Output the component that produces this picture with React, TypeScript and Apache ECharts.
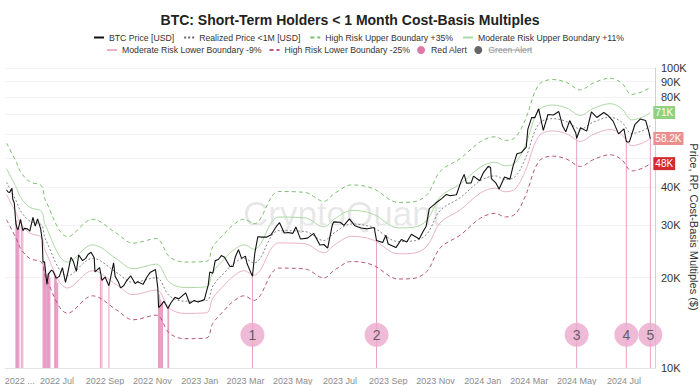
import React, { useEffect, useRef } from 'react';
import * as echarts from 'echarts';

const TITLE = 'BTC: Short-Term Holders < 1 Month Cost-Basis Multiples';
const Y_NAME = 'Price, RP, Cost-Basis Multiples ($)';

// BTC daily close, thousands of USD
const priceDates = [
  '2022-04-27','2022-04-29','2022-05-01','2022-05-04','2022-05-05','2022-05-07','2022-05-09','2022-05-11','2022-05-12','2022-05-15',
  '2022-05-18','2022-05-20','2022-05-24','2022-05-27','2022-05-31','2022-06-03','2022-06-06','2022-06-10','2022-06-12','2022-06-13',
  '2022-06-15','2022-06-18','2022-06-20','2022-06-24','2022-06-26','2022-06-30','2022-07-04','2022-07-08','2022-07-12','2022-07-15',
  '2022-07-19','2022-07-22','2022-07-26','2022-07-29','2022-08-03','2022-08-07','2022-08-10','2022-08-14','2022-08-18','2022-08-19',
  '2022-08-25','2022-08-28','2022-09-01','2022-09-06','2022-09-12','2022-09-14','2022-09-18','2022-09-21','2022-09-25','2022-09-28',
  '2022-10-04','2022-10-10','2022-10-13','2022-10-20','2022-10-25','2022-10-29','2022-11-05','2022-11-08','2022-11-09','2022-11-13',
  '2022-11-16','2022-11-21','2022-11-25','2022-11-30','2022-12-05','2022-12-14','2022-12-19','2022-12-25','2022-12-30','2023-01-07',
  '2023-01-12','2023-01-14','2023-01-18','2023-01-21','2023-01-25','2023-01-29','2023-02-02','2023-02-09','2023-02-13','2023-02-16',
  '2023-02-20','2023-02-24','2023-03-01','2023-03-03','2023-03-10','2023-03-13','2023-03-17','2023-03-22','2023-03-28','2023-04-03',
  '2023-04-10','2023-04-14','2023-04-20','2023-04-25','2023-05-01','2023-05-05','2023-05-11','2023-05-20','2023-05-28','2023-06-05',
  '2023-06-10','2023-06-15','2023-06-21','2023-06-23','2023-07-01','2023-07-06','2023-07-13','2023-07-20','2023-07-28','2023-08-05',
  '2023-08-14','2023-08-17','2023-08-25','2023-08-29','2023-09-01','2023-09-11','2023-09-18','2023-09-25','2023-10-01','2023-10-11',
  '2023-10-16','2023-10-20','2023-10-24','2023-11-01','2023-11-09','2023-11-15','2023-11-20','2023-11-28','2023-12-04','2023-12-08',
  '2023-12-11','2023-12-17','2023-12-20','2023-12-28','2024-01-02','2024-01-08','2024-01-11','2024-01-12','2024-01-18','2024-01-22',
  '2024-01-29','2024-02-05','2024-02-09','2024-02-14','2024-02-20','2024-02-26','2024-02-28','2024-03-04','2024-03-08','2024-03-13',
  '2024-03-19','2024-03-25','2024-04-01','2024-04-08','2024-04-13','2024-04-17','2024-04-22','2024-04-30','2024-05-01','2024-05-06',
  '2024-05-14','2024-05-20','2024-05-27','2024-06-05','2024-06-10','2024-06-17','2024-06-24','2024-07-01','2024-07-04','2024-07-05',
  '2024-07-08','2024-07-15','2024-07-22','2024-07-29','2024-08-02','2024-08-04'
];
const priceValues = [
  39.2,38.6,38.5,39.7,36.6,35.5,30.3,29.0,29.0,31.3,
  28.7,29.2,29.1,28.6,31.8,29.7,31.4,29.1,26.6,22.5,
  22.6,19.0,20.6,21.2,21.0,19.9,20.2,21.6,19.3,20.8,
  23.4,22.7,21.0,23.8,22.8,23.2,23.9,24.3,23.3,20.9,
  21.6,19.6,20.1,18.8,22.4,20.2,19.4,18.5,18.8,19.4,
  20.3,19.1,19.4,19.0,20.1,20.8,21.3,18.5,15.9,16.3,
  16.7,15.8,16.5,17.2,17.0,17.8,16.4,16.8,16.6,16.9,
  18.9,20.9,20.7,22.8,23.0,23.7,23.4,21.8,21.8,23.5,
  24.8,23.2,23.6,22.3,20.2,24.1,27.4,27.3,27.3,27.8,
  29.7,30.5,28.2,28.3,28.1,29.5,26.9,27.1,28.1,25.7,
  25.8,25.1,30.0,30.7,30.6,29.9,31.4,29.8,29.3,29.1,
  29.4,26.6,26.2,27.7,25.9,25.2,26.8,26.3,27.9,26.9,
  28.5,29.7,34.0,35.4,36.7,37.9,37.5,37.8,41.9,44.2,
  41.3,41.4,43.6,42.1,44.9,47.0,46.6,42.8,41.3,39.5,
  43.3,42.6,47.1,51.8,52.3,54.5,62.4,68.3,68.3,73.1,
  62.0,70.0,69.7,71.6,63.9,61.3,66.8,60.6,58.3,63.2,
  61.6,71.4,68.4,71.1,69.6,66.5,60.3,62.7,57.0,56.7,
  56.7,64.7,67.6,66.8,61.4,58.2
];

// Realized price of coins younger than 1 month, thousands of USD
const rpDates = [
  '2022-04-27','2022-05-10','2022-05-15','2022-05-27','2022-06-11','2022-06-16','2022-07-15','2022-08-16','2022-09-16','2022-10-07',
  '2022-11-06','2022-11-23','2022-12-13','2023-01-10','2023-01-18','2023-02-02','2023-02-13','2023-02-27','2023-03-12','2023-04-13',
  '2023-05-17','2023-06-10','2023-06-24','2023-07-16','2023-08-12','2023-09-14','2023-10-03','2023-10-21','2023-11-07','2023-12-03',
  '2023-12-29','2024-01-17','2024-01-30','2024-02-12','2024-02-25','2024-03-13','2024-03-31','2024-04-18','2024-05-06','2024-05-22',
  '2024-06-13','2024-06-28','2024-07-11','2024-07-25','2024-08-04'
];
const rpValues = [
  41.6,35.8,33.4,30.9,30.0,26.9,20.3,23.2,20.8,19.3,
  20.0,17.4,16.7,16.8,18.8,20.8,22.2,23.2,22.4,28.7,
  28.5,26.6,28.3,30.2,29.4,26.4,26.5,28.0,33.5,37.0,
  42.1,43.7,42.5,43.5,50.0,65.0,67.8,66.3,62.6,65.9,
  68.5,66.0,60.5,61.8,64.0
];

const HIGH_UPPER = 1.35;
const MOD_UPPER = 1.11;
const MOD_LOWER = 0.91;
const HIGH_LOWER = 0.75;

// Red alert days (price below the moderate lower boundary)
const alertDates = [
  '2022-05-09','2022-05-10','2022-05-11','2022-05-12','2022-05-13','2022-05-16','2022-05-18',
  '2022-06-13','2022-06-14','2022-06-15','2022-06-16','2022-06-17','2022-06-18','2022-06-19','2022-06-20','2022-06-21','2022-06-22',
  '2022-06-28','2022-06-29','2022-06-30','2022-07-01','2022-07-02',
  '2022-08-26','2022-08-28','2022-09-06',
  '2022-11-09','2022-11-10','2022-11-11','2022-11-12','2022-11-13','2022-11-14','2022-11-21','2022-11-22',
  '2023-03-10','2023-08-17','2024-05-01','2024-07-04','2024-08-04'
];
const alertValues = [
  30.3,31.0,29.0,29.0,29.3,29.9,28.7,
  22.5,22.2,22.6,20.4,20.5,19.0,20.6,20.6,20.7,20.0,
  20.3,20.1,19.9,19.3,19.2,
  20.2,19.6,18.8,
  15.9,17.6,17.0,16.8,16.3,16.6,15.8,16.2,
  20.2,26.6,58.3,57.0,58.2
];

const eventDates = ['2023-03-10','2023-08-17','2024-05-01','2024-07-04','2024-08-04'];
const eventLabels = ['1','2','3','4','5'];
const EVENT_BADGE_LEVEL = 12.9;

const yGridValues = [10, 20, 30, 40, 50, 60, 70, 80, 90, 100];
const yLabelValues = [10, 20, 30, 40, 80, 90, 100];
const xTickDates = [
  '2022-05-14','2022-07-01','2022-09-01','2022-11-01','2023-01-01','2023-03-01','2023-05-01','2023-07-01',
  '2023-09-01','2023-11-01','2024-01-01','2024-03-01','2024-05-01','2024-07-01'
];
const X_MIN = '2022-04-25';
const X_MAX = '2024-08-10';
const Y_MIN = 10;
const Y_MAX = 100;

const MONTHS = ['Jan','Feb','Mar','Apr','May','Jun','Jul','Aug','Sep','Oct','Nov','Dec'];

function ts(s: string): number {
  const [y, m, d] = s.split('-').map(Number);
  return new Date(y, m - 1, d).getTime();
}
function fmtK(v: number): string {
  const r = Math.round(v * 10) / 10;
  return (Number.isInteger(r) ? r.toFixed(0) : r.toFixed(1)) + 'K';
}

const FONT = '"Liberation Sans", Arial, Helvetica, sans-serif';

export default function App() {
  const ref = useRef<HTMLDivElement>(null);
  useEffect(() => {
    if (!ref.current) return;
    const chart = echarts.init(ref.current, undefined, { renderer: 'svg' });

    const pricePts = priceDates.map((d, i) => [ts(d), priceValues[i]]);
    const band = (k: number) => rpDates.map((d, i) => [ts(d), Math.round(rpValues[i] * k * 100) / 100]);
    const rpPts = band(1);
    const alertPts = alertDates.map((d, i) => [ts(d), alertValues[i]]);
    const eventPts = eventDates.map((d, i) => [ts(d), EVENT_BADGE_LEVEL, eventLabels[i]]);

    const endLabel = (bg: string) => ({
      show: true,
      formatter: (p: any) => fmtK(p.value[1]),
      backgroundColor: bg,
      color: '#fff',
      fontSize: 10,
      fontFamily: FONT,
      padding: [2, 2, 1, 2],
      distance: 3,
    });

    const lineBase = { type: 'line', showSymbol: false, symbol: 'none', silent: true };

    const legendCommon = {
      itemWidth: 10,
      itemHeight: 8,
      itemGap: 9,
      width: 640,
      itemStyle: { opacity: 0 },
      textStyle: { fontSize: 8.7, color: '#333', fontFamily: FONT },
    };

    const option: any = {
      animation: false,
      textStyle: { fontFamily: FONT },
      title: {
        text: TITLE,
        left: 'center',
        top: 8,
        textStyle: { fontSize: 14, fontWeight: 'bold', color: '#222', fontFamily: FONT },
      },
      legend: [
        {
          ...legendCommon,
          left: 88,
          top: 28,
          data: [
            'BTC Price [USD]',
            'Realized Price <1M [USD]',
            'High Risk Upper Boundary +35%',
            'Moderate Risk Upper Boundary +11%',
          ],
        },
        {
          ...legendCommon,
          left: 101,
          top: 40.5,
          itemGap: 7,
          data: [
            'Moderate Risk Lower Boundary -9%',
            'High Risk Lower Boundary -25%',
            { name: 'Red Alert', icon: 'circle', itemStyle: { color: '#dd7aa8', opacity: 1 } },
            { name: 'Green Alert', icon: 'circle', itemStyle: { color: '#666', opacity: 1 }, textStyle: { color: '#9a9a9a' } },
          ],
        },
      ],
      grid: { left: 5, right: 45, top: 68, bottom: 17, containLabel: false, outerBoundsMode: 'none' },
      xAxis: {
        type: 'value',
        min: ts(X_MIN),
        max: ts(X_MAX),
        axisLine: { show: true, lineStyle: { color: '#e4e4e4' } },
        axisTick: { show: false, customValues: xTickDates.map(ts) },
        splitLine: { show: false },
        axisLabel: {
          customValues: xTickDates.map(ts),
          hideOverlap: false,
          color: '#8c8c8c',
          fontSize: 9,
          margin: 8,
          fontFamily: FONT,
          formatter: (v: number) => {
            const d = new Date(v);
            if (v === ts(xTickDates[0])) return d.getFullYear() + ' ...';
            return d.getFullYear() + ' ' + MONTHS[d.getMonth()];
          },
        },
      },
      yAxis: {
        type: 'log',
        logBase: 10,
        position: 'right',
        min: Y_MIN,
        max: Y_MAX,
        name: Y_NAME,
        nameLocation: 'middle',
        nameRotate: -90,
        nameGap: 33,
        nameMoveOverlap: false,
        nameTextStyle: { fontSize: 11, color: '#333', fontFamily: FONT, padding: [0, 0, 0, 18] },
        axisLine: { show: true, lineStyle: { color: '#d0d0d0' } },
        axisTick: { show: false, customValues: yGridValues },
        splitLine: { show: true, lineStyle: { color: '#f3f3f3', width: 1 } },
        axisLabel: {
          customValues: yLabelValues,
          color: '#333',
          fontSize: 11,
          margin: 6,
          fontFamily: FONT,
          formatter: (v: number) => fmtK(v),
        },
      },
      graphic: [
        {
          type: 'text',
          left: 243,
          top: 196,
          z: 0,
          silent: true,
          style: { text: 'CryptoQuant', fontSize: 35, fontFamily: FONT, fill: 'rgba(0,0,0,0.10)' },
        },
        {
          type: 'line',
          z: 100,
          silent: true,
          shape: { x1: 489, y1: 50, x2: 532, y2: 50 },
          style: { stroke: '#9a9a9a', lineWidth: 0.8 },
        },
      ],
      series: [
        {
          name: 'Red Alert',
          type: 'custom',
          z: 1,
          silent: true,
          itemStyle: { color: '#dd7aa8' },
          encode: { x: 0, y: 1 },
          data: alertPts,
          renderItem: (_p: any, api: any) => {
            const top = api.coord([api.value(0), api.value(1)]);
            const base = api.coord([api.value(0), Y_MIN]);
            return {
              type: 'rect',
              shape: { x: top[0] - 0.5, y: top[1], width: 1, height: base[1] - top[1] },
              style: { fill: '#e07fb0', opacity: 0.75 },
            };
          },
        },
        {
          name: 'Green Alert',
          type: 'custom',
          silent: true,
          itemStyle: { color: '#666' },
          encode: { x: 0, y: 1 },
          data: [],
          renderItem: () => null,
        },
        {
          ...lineBase,
          name: 'High Risk Upper Boundary +35%',
          smooth: 0.35,
          z: 2,
          itemStyle: { color: '#7cc06f' },
          lineStyle: { color: '#7cc06f', width: 1, type: [4, 3] },
          data: band(HIGH_UPPER),
        },
        {
          ...lineBase,
          name: 'Moderate Risk Upper Boundary +11%',
          smooth: 0.35,
          z: 2,
          itemStyle: { color: '#acdaa2' },
          lineStyle: { color: '#acdaa2', width: 1 },
          endLabel: endLabel('#8fd17f'),
          data: band(MOD_UPPER),
        },
        {
          ...lineBase,
          name: 'Moderate Risk Lower Boundary -9%',
          smooth: 0.35,
          z: 2,
          itemStyle: { color: '#ebb2c5' },
          lineStyle: { color: '#ebb2c5', width: 1 },
          data: band(MOD_LOWER),
        },
        {
          ...lineBase,
          name: 'High Risk Lower Boundary -25%',
          smooth: 0.35,
          z: 2,
          itemStyle: { color: '#b8577f' },
          lineStyle: { color: '#b8577f', width: 1, type: [4, 3] },
          endLabel: endLabel('#d42a2e'),
          data: band(HIGH_LOWER),
        },
        {
          ...lineBase,
          name: 'Realized Price <1M [USD]',
          smooth: 0.35,
          z: 3,
          itemStyle: { color: '#666' },
          lineStyle: { color: '#666', width: 0.8, type: [2, 2] },
          data: rpPts,
        },
        {
          ...lineBase,
          name: 'BTC Price [USD]',
          z: 4,
          itemStyle: { color: '#111' },
          lineStyle: { color: '#111', width: 1.1 },
          endLabel: endLabel('#ec8e8e'),
          data: pricePts,
        },
        {
          name: 'events',
          type: 'scatter',
          z: 5,
          silent: true,
          symbolSize: 24,
          itemStyle: { color: '#eaa9cc' },
          label: {
            show: true,
            position: 'inside',
            color: '#444',
            fontSize: 14,
            fontFamily: FONT,
            formatter: (p: any) => p.value[2],
          },
          data: eventPts,
        },
      ],
    };
    chart.setOption(option);
    return () => chart.dispose();
  }, []);

  return (
    <div
      ref={ref}
      style={{ position: 'fixed', left: 0, top: 0, width: 700, height: 385, background: '#fff' }}
    />
  );
}
